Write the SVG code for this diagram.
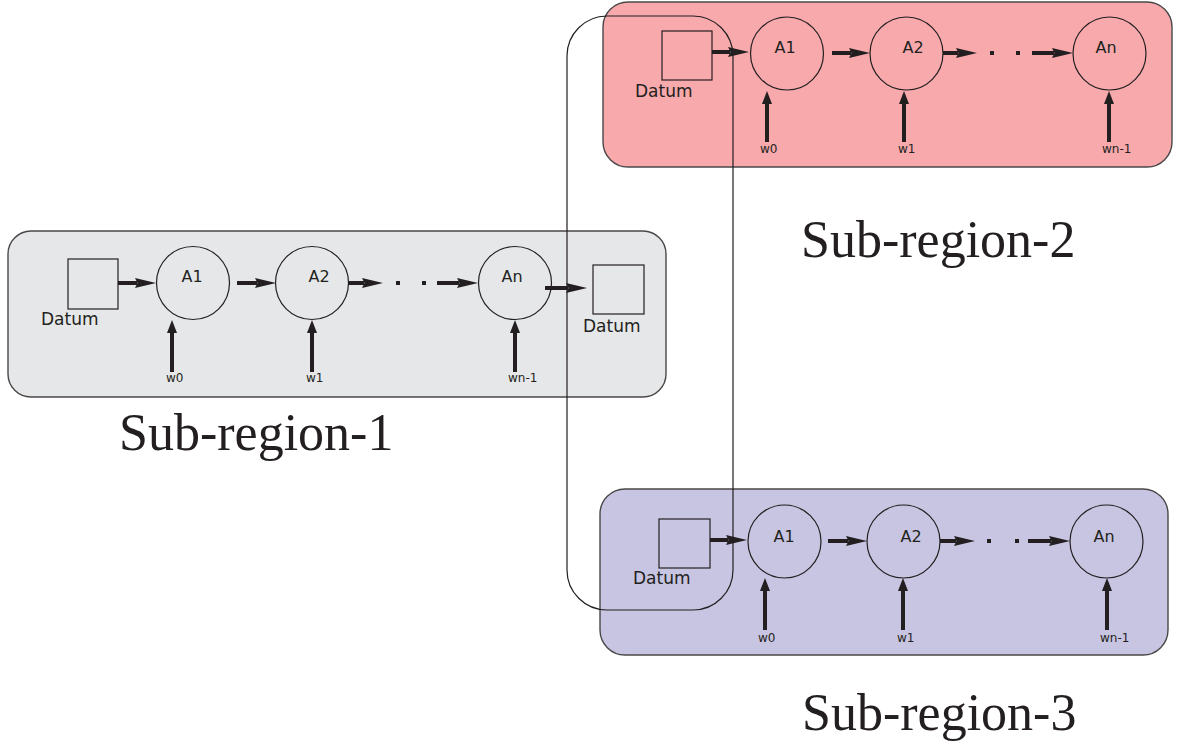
<svg xmlns="http://www.w3.org/2000/svg" width="1180" height="749" viewBox="0 0 1180 749">
  <defs>
    <style>
      .region { stroke: #4a4748; stroke-width: 1.4; }
      .r1 { fill: #e6e7e8; }
      .r2 { fill: #f7a9ac; }
      .r3 { fill: #c8c5e2; }
      .loop { fill: none; stroke: #231f20; stroke-width: 1.2; }
      .datum { fill: none; stroke: #231f20; stroke-width: 1.2; }
      .node { fill: none; stroke: #231f20; stroke-width: 1.2; }
      .lbl { font-family: "DejaVu Sans", "Liberation Sans", sans-serif; fill: #231f20; }
      .dl { font-size: 17px; }
      .nl { font-size: 16px; text-anchor: middle; }
      .wl { font-size: 12px; }
      .title { font-family: "Liberation Serif", "Times New Roman", serif; font-size: 52px; fill: #231f20; }
      .flow { stroke: #231f20; stroke-width: 4; fill: none; marker-end: url(#ah); }
      .feed { stroke: #231f20; stroke-width: 4; fill: none; marker-end: url(#av); }
      .dot { fill: #231f20; }
    </style>
    <marker id="ah" markerUnits="userSpaceOnUse" viewBox="0 0 22 12" markerWidth="22" markerHeight="12" refX="2" refY="6" orient="auto">
      <path d="M0,1 L21,6 L0,11 L2.5,6 z" fill="#231f20"/>
    </marker>
    <marker id="av" markerUnits="userSpaceOnUse" viewBox="0 0 14 12" markerWidth="14" markerHeight="12" refX="1" refY="6" orient="auto">
      <path d="M0,1 L13,6 L0,11 z" fill="#231f20"/>
    </marker>
  </defs>

  <!-- region backgrounds -->
  <g id="region-1-box"><rect class="region r1" x="8" y="231" width="658" height="166" rx="23"/></g>
  <g id="region-2-box"><rect class="region r2" x="603" y="2" width="569" height="165" rx="25"/></g>
  <g id="region-3-box"><rect class="region r3" x="600" y="489" width="568" height="166" rx="25"/></g>

  <!-- sub-region 1 nodes -->
  <g id="r1-datum-in">
    <rect class="datum" x="68" y="259" width="50" height="50"/>
    <text class="lbl dl" x="41" y="325">Datum</text>
  </g>
  <g id="r1-a1">
    <circle class="node" cx="193" cy="283" r="36.5"/>
    <text class="lbl nl" x="192" y="282">A1</text>
  </g>
  <g id="r1-a2">
    <circle class="node" cx="312" cy="283" r="36.5"/>
    <text class="lbl nl" x="319" y="282">A2</text>
  </g>
  <g id="r1-an">
    <circle class="node" cx="515" cy="283" r="36.5"/>
    <text class="lbl nl" x="512" y="282">An</text>
  </g>
  <g id="r1-datum-out">
    <rect class="datum" x="593" y="265" width="51" height="49"/>
    <text class="lbl dl" x="583" y="332">Datum</text>
  </g>
  <g id="r1-weights">
    <text class="lbl wl" x="166" y="382">w0</text>
    <text class="lbl wl" x="306" y="382">w1</text>
    <text class="lbl wl" x="508" y="382">wn-1</text>
  </g>

  <!-- sub-region 2 nodes -->
  <g id="r2-datum">
    <rect class="datum" x="662" y="31" width="50" height="49"/>
    <text class="lbl dl" x="635" y="97">Datum</text>
  </g>
  <g id="r2-a1">
    <circle class="node" cx="787" cy="53.5" r="36.5"/>
    <text class="lbl nl" x="785" y="53">A1</text>
  </g>
  <g id="r2-a2">
    <circle class="node" cx="906.5" cy="53.5" r="36.5"/>
    <text class="lbl nl" x="913" y="53">A2</text>
  </g>
  <g id="r2-an">
    <circle class="node" cx="1109.5" cy="53.5" r="36.5"/>
    <text class="lbl nl" x="1106" y="53">An</text>
  </g>
  <g id="r2-weights">
    <text class="lbl wl" x="760" y="153">w0</text>
    <text class="lbl wl" x="898" y="153">w1</text>
    <text class="lbl wl" x="1102" y="153">wn-1</text>
  </g>

  <!-- sub-region 3 nodes -->
  <g id="r3-datum">
    <rect class="datum" x="659" y="519" width="51" height="49"/>
    <text class="lbl dl" x="633" y="584">Datum</text>
  </g>
  <g id="r3-a1">
    <circle class="node" cx="784.5" cy="541.5" r="36.5"/>
    <text class="lbl nl" x="784" y="542">A1</text>
  </g>
  <g id="r3-a2">
    <circle class="node" cx="903.5" cy="541.5" r="36.5"/>
    <text class="lbl nl" x="911" y="542">A2</text>
  </g>
  <g id="r3-an">
    <circle class="node" cx="1106.5" cy="541.5" r="36.5"/>
    <text class="lbl nl" x="1104" y="542">An</text>
  </g>
  <g id="r3-weights">
    <text class="lbl wl" x="758" y="642">w0</text>
    <text class="lbl wl" x="897" y="642">w1</text>
    <text class="lbl wl" x="1100" y="642">wn-1</text>
  </g>

  <!-- connectors -->
  <g id="connectors">
    <!-- sub-region 1 chain -->
    <line class="flow" x1="118" y1="283" x2="137" y2="283"/>
    <line class="flow" x1="237" y1="283" x2="257" y2="283"/>
    <line class="flow" x1="348" y1="283" x2="364" y2="283"/>
    <rect class="dot" x="396" y="281" width="4" height="4"/>
    <rect class="dot" x="422" y="281" width="4" height="4"/>
    <line class="flow" x1="437" y1="283" x2="459" y2="283"/>
    <line class="flow" x1="545" y1="288" x2="568" y2="288"/>
    <line class="feed" x1="172" y1="372" x2="172" y2="332"/>
    <line class="feed" x1="312" y1="372" x2="312" y2="332"/>
    <line class="feed" x1="515" y1="372" x2="515" y2="332"/>

    <!-- sub-region 2 chain -->
    <line class="flow" x1="712" y1="52" x2="730" y2="52"/>
    <line class="flow" x1="832" y1="53" x2="851" y2="53"/>
    <line class="flow" x1="943" y1="53" x2="958" y2="53"/>
    <rect class="dot" x="990" y="51" width="4" height="4"/>
    <rect class="dot" x="1016" y="51" width="4" height="4"/>
    <line class="flow" x1="1032" y1="53" x2="1054" y2="53"/>
    <line class="feed" x1="767" y1="142" x2="767" y2="103"/>
    <line class="feed" x1="904" y1="142" x2="904" y2="103"/>
    <line class="feed" x1="1109" y1="142" x2="1109" y2="103"/>

    <!-- sub-region 3 chain -->
    <line class="flow" x1="710" y1="540" x2="728" y2="540"/>
    <line class="flow" x1="828" y1="541" x2="848" y2="541"/>
    <line class="flow" x1="940" y1="541" x2="956" y2="541"/>
    <rect class="dot" x="987" y="539" width="4" height="4"/>
    <rect class="dot" x="1015" y="539" width="4" height="4"/>
    <line class="flow" x1="1028" y1="541" x2="1051" y2="541"/>
    <line class="feed" x1="765" y1="630" x2="765" y2="590"/>
    <line class="feed" x1="903" y1="630" x2="903" y2="590"/>
    <line class="feed" x1="1107" y1="630" x2="1107" y2="590"/>

    <!-- grouping outline linking the shared datum -->
    <rect class="loop" x="567" y="16" width="166" height="594" rx="40"/>
  </g>

  <!-- region titles -->
  <g id="titles">
    <text class="title" x="119" y="450">Sub-region-1</text>
    <text class="title" x="801" y="257">Sub-region-2</text>
    <text class="title" x="802" y="730">Sub-region-3</text>
  </g>
</svg>
